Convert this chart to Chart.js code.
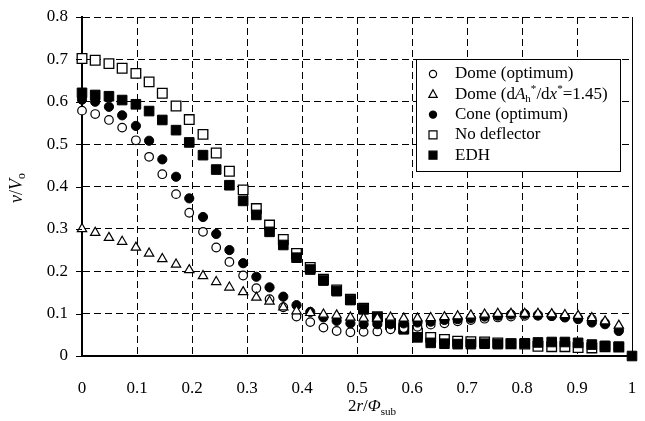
<!DOCTYPE html>
<html>
<head>
<meta charset="utf-8">
<script src="https://cdn.jsdelivr.net/npm/chart.js@4.4.0/dist/chart.umd.min.js"></script>
<style>
html, body { margin: 0; padding: 0; background: #fff; }
</style>
</head>
<body>
<canvas id="velo" width="645" height="421"></canvas>
<script>
// radial position 2r/Phi_sub (41 intervals)
var xs = [0.000,0.024,0.049,0.073,0.098,0.122,0.146,0.171,0.195,0.220,0.244,0.268,0.293,0.317,0.341,0.366,0.390,0.415,0.439,0.463,0.488,0.512,0.537,0.561,0.585,0.610,0.634,0.659,0.683,0.707,0.732,0.756,0.780,0.805,0.829,0.854,0.878,0.902,0.927,0.951,0.976,1.000];

var domeOpt = [0.579,0.571,0.557,0.539,0.509,0.470,0.429,0.382,0.338,0.293,0.256,0.222,0.190,0.160,0.134,0.115,0.093,0.080,0.067,0.059,0.056,0.057,0.058,0.063,0.066,0.069,0.074,0.077,0.082,0.085,0.088,0.091,0.093,0.095,0.095,0.094,0.092,0.090,0.087,0.078,0.063];
var domeSlope = [0.300,0.291,0.279,0.270,0.256,0.242,0.229,0.216,0.203,0.189,0.175,0.162,0.151,0.138,0.129,0.115,0.106,0.102,0.098,0.096,0.091,0.089,0.089,0.091,0.089,0.089,0.090,0.092,0.094,0.096,0.098,0.100,0.100,0.100,0.100,0.099,0.097,0.095,0.090,0.082,0.072];
var coneOpt = [0.605,0.600,0.588,0.568,0.543,0.508,0.464,0.423,0.372,0.328,0.288,0.250,0.219,0.187,0.162,0.140,0.120,0.104,0.091,0.083,0.077,0.075,0.075,0.075,0.077,0.079,0.081,0.085,0.087,0.089,0.093,0.095,0.098,0.099,0.097,0.095,0.091,0.087,0.079,0.075,0.059];
var noDefl = [0.702,0.698,0.690,0.679,0.667,0.647,0.620,0.590,0.558,0.523,0.479,0.436,0.392,0.348,0.309,0.275,0.242,0.209,0.181,0.156,0.134,0.113,0.093,0.076,0.066,0.054,0.044,0.039,0.035,0.034,0.033,0.031,0.029,0.028,0.023,0.022,0.022,0.020,0.019,0.022,0.021];
var edh = [0.621,0.616,0.613,0.604,0.594,0.578,0.557,0.533,0.504,0.474,0.440,0.403,0.366,0.333,0.293,0.262,0.232,0.204,0.178,0.153,0.132,0.110,0.091,0.073,0.063,0.044,0.031,0.029,0.028,0.028,0.029,0.028,0.029,0.030,0.032,0.033,0.033,0.031,0.027,0.024,0.022,0.000];

var xTicks = [0,0.1,0.2,0.3,0.4,0.5,0.6,0.7,0.8,0.9,1];
var yTicks = [0,0.1,0.2,0.3,0.4,0.5,0.6,0.7,0.8];

var FONT = 'Liberation Serif, Times New Roman, serif';

function pts(arr) {
    return arr.map(function (v, i) { return {x: xs[i], y: v}; });
}

// legend rows: text pieces [text, style]  n=normal i=italic b=sub p=sup
var legendRows = [
    {ds: 0, parts: [['Dome (optimum)', 'n']]},
    {ds: 1, parts: [['Dome (d', 'n'], ['A', 'i'], ['h', 'b'], ['*', 'p'], ['/d', 'n'], ['x', 'i'], ['*', 'p'], ['=1.45)', 'n']]},
    {ds: 2, parts: [['Cone (optimum)', 'n']]},
    {ds: 3, parts: [['No deflector', 'n']]},
    {ds: 4, parts: [['EDH', 'n']]}
];

function richWidth(ctx, parts, size) {
    var w = 0;
    parts.forEach(function (p) {
        var s = (p[1] == 'b' || p[1] == 'p') ? size * 0.65 : size;
        ctx.font = (p[1] == 'i' ? 'italic ' : '') + s + 'px ' + FONT;
        w += ctx.measureText(p[0]).width;
    });
    return w;
}

function drawRich(ctx, x, y, parts, size) {
    ctx.textBaseline = 'middle';
    ctx.textAlign = 'left';
    parts.forEach(function (p) {
        var s = size, dy = 0;
        if (p[1] == 'b') { s = size * 0.65; dy = size * 0.3; }
        if (p[1] == 'p') { s = size * 0.65; dy = -size * 0.3; }
        ctx.font = (p[1] == 'i' ? 'italic ' : '') + s + 'px ' + FONT;
        ctx.fillText(p[0], x, y + dy);
        x += ctx.measureText(p[0]).width;
    });
}

function marker(ctx, style, filled, x, y, r) {
    ctx.beginPath();
    if (style == 'circle') {
        ctx.arc(x, y, r, 0, Math.PI * 2);
    } else if (style == 'rect') {
        ctx.rect(x - r, y - r, 2 * r, 2 * r);
    } else {
        ctx.moveTo(x, y - r * 1.1);
        ctx.lineTo(x + r, y + r * 0.75);
        ctx.lineTo(x - r, y + r * 0.75);
        ctx.closePath();
    }
    ctx.fillStyle = filled ? '#000' : '#fff';
    ctx.fill();
    ctx.lineWidth = 1.2;
    ctx.strokeStyle = '#000';
    ctx.stroke();
}

var extras = {
    id: 'extras',
    afterDraw: function (chart) {
        var ctx = chart.ctx, a = chart.chartArea;
        var ys = chart.scales.y;
        ctx.save();
        ctx.strokeStyle = '#000';
        ctx.lineWidth = 1;
        // right frame
        ctx.beginPath();
        ctx.moveTo(a.right + 0.5, a.top);
        ctx.lineTo(a.right + 0.5, a.bottom);
        ctx.stroke();
        // short outward ticks on the y axis
        yTicks.forEach(function (v) {
            var py = Math.round(ys.getPixelForValue(v)) + 0.5;
            ctx.beginPath();
            ctx.moveTo(a.left - 6, py);
            ctx.lineTo(a.left, py);
            ctx.stroke();
        });

        // legend box
        ctx.fillStyle = '#fff';
        ctx.fillRect(416, 59, 204, 112);
        ctx.strokeRect(416.5, 59.5, 204, 112);
        legendRows.forEach(function (row, k) {
            var d = chart.data.datasets[row.ds];
            var y = 74 + k * 20.3;
            var filled = d.backgroundColor == '#000';
            marker(ctx, d.pointStyle, filled, 433, y, d.pointStyle == 'circle' ? 3.6 : (d.pointStyle == 'rect' ? 4 : 4.2));
            ctx.fillStyle = '#000';
            drawRich(ctx, 455, y, row.parts, 17);
        });

        // axis titles
        ctx.fillStyle = '#000';
        var xt = [['2', 'n'], ['r', 'i'], ['/', 'n'], ['\u03A6', 'i'], ['sub', 'b']];
        var w = richWidth(ctx, xt, 17);
        drawRich(ctx, 372 - w / 2, 407, xt, 17);

        var yt = [['v', 'i'], ['/', 'n'], ['V', 'i'], ['o', 'b']];
        w = richWidth(ctx, yt, 18);
        ctx.translate(17, 188);
        ctx.rotate(-Math.PI / 2);
        drawRich(ctx, -w / 2, 0, yt, 18);
        ctx.restore();
    }
};

var ctx = document.getElementById('velo');
var velChart = new Chart(ctx, {
    type: 'scatter',
    data: {
        datasets: [
            { label: 'Dome (optimum)', data: pts(domeOpt), pointStyle: 'circle', pointRadius: 4.3,
              backgroundColor: '#fff', borderColor: '#000', borderWidth: 1.2, order: 2, clip: false },
            { label: 'Dome (dAh*/dx*=1.45)', data: pts(domeSlope), pointStyle: 'triangle', pointRadius: 5.4,
              backgroundColor: '#fff', borderColor: '#000', borderWidth: 1.2, order: 0, clip: false },
            { label: 'Cone (optimum)', data: pts(coneOpt), pointStyle: 'circle', pointRadius: 4.6,
              backgroundColor: '#000', borderColor: '#000', borderWidth: 1, order: 1, clip: false },
            { label: 'No deflector', data: pts(noDefl), pointStyle: 'rect', pointRadius: 6.8,
              backgroundColor: '#fff', borderColor: '#000', borderWidth: 1.3, order: 4, clip: false },
            { label: 'EDH', data: pts(edh), pointStyle: 'rect', pointRadius: 6.8,
              backgroundColor: '#000', borderColor: '#000', borderWidth: 1, order: 3, clip: false }
        ]
    },
    options: {
        responsive: false,
        animation: false,
        devicePixelRatio: 1,
        layout: { padding: { left: 0, top: 17, right: 13, bottom: 0 } },
        plugins: { legend: { display: false }, tooltip: { enabled: false } },
        scales: {
            x: {
                type: 'linear', min: 0, max: 1,
                afterFit: function (s) { s.height = 65; },
                afterBuildTicks: function (s) { s.ticks = xTicks.map(function (v) { return {value: v}; }); },
                ticks: { color: '#000', font: { family: FONT, size: 17 }, padding: 0, maxRotation: 0,
                         callback: function (v) { return String(v); } },
                grid: { color: '#000', lineWidth: 1, drawTicks: true, tickLength: 22, tickColor: 'rgba(0,0,0,0)' },
                border: { color: '#000', width: 2, dash: [7, 4] }
            },
            y: {
                type: 'linear', min: 0, max: 0.8,
                afterFit: function (s) { s.width = 82; },
                afterBuildTicks: function (s) { s.ticks = yTicks.map(function (v) { return {value: v}; }); },
                ticks: { color: '#000', font: { family: FONT, size: 17 }, padding: 0,
                         callback: function (v) { return String(v); } },
                grid: { color: '#000', lineWidth: 1, drawTicks: true, tickLength: 14, tickColor: 'rgba(0,0,0,0)' },
                border: { color: '#000', width: 2, dash: [7, 4] }
            }
        }
    },
    plugins: [extras]
});
</script>
</body>
</html>
